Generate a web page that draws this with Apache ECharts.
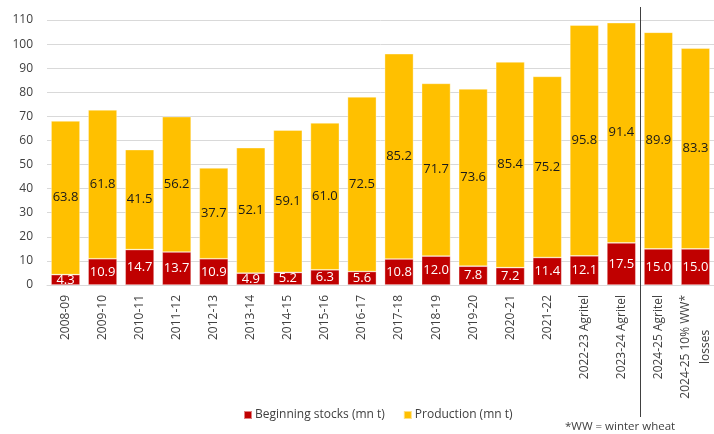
<!DOCTYPE html>
<html><head><meta charset="utf-8">
<script src="https://cdn.jsdelivr.net/npm/echarts@6/dist/echarts.min.js"></script>
<style>html,body{margin:0;padding:0;background:#fff}#c{width:714px;height:434px}</style>
</head><body><div id="c"></div>
<script>
var categories = ['2008-09','2009-10','2010-11','2011-12','2012-13','2013-14','2014-15','2015-16','2016-17','2017-18','2018-19','2019-20','2020-21','2021-22','2022-23 Agritel','2023-24 Agritel','2024-25 Agritel','2024-25 10% WW*\nlosses'];
var stocks = [4.3,10.9,14.7,13.7,10.9,4.9,5.2,6.3,5.6,10.8,12.0,7.8,7.2,11.4,12.1,17.5,15.0,15.0];
var production = [63.8,61.8,41.5,56.2,37.7,52.1,59.1,61.0,72.5,85.2,71.7,73.6,85.4,75.2,95.8,91.4,89.9,83.3];
var seriesNames = ['Beginning stocks (mn t)','Production (mn t)'];
var footnote = '*WW = winter wheat';
var dividerAfter = 15;

var font = 'Open Sans';
var chart = echarts.init(document.getElementById('c'), null, {renderer:'canvas'});
chart.setOption({
  animation:false,
  textStyle:{fontFamily:font},
  grid:{left:47, top:20, width:671, bottom:149, containLabel:false},
  legend:{
    data:seriesNames, left:238, top:404, icon:'rect', itemWidth:8, itemHeight:8, itemGap:18,
    textStyle:{fontFamily:font, fontSize:12, color:'#404040', padding:[0,0,0,-2]}
  },
  xAxis:{
    type:'category', data:categories,
    axisLine:{show:true, lineStyle:{color:'#d9d9d9'}}, axisTick:{show:false},
    axisLabel:{rotate:90, interval:0, margin:10, fontSize:12, color:'#404040', fontFamily:font,
      formatter:function(v){
        var p=v.split('\n');
        if(p.length>1) return '{a|'+p[0]+'}\n{b|'+p[1]+'}';
        return '{a|'+v+'}';
      },
      rich:{a:{fontSize:12,color:'#404040',fontFamily:font,lineHeight:20},b:{fontSize:12,color:'#404040',fontFamily:font,align:'center',lineHeight:20}}
    }
  },
  yAxis:{
    type:'value', min:0, max:110, interval:10,
    axisLine:{show:false}, axisTick:{show:false},
    axisLabel:{fontSize:12, color:'#404040', margin:14, fontFamily:font},
    splitLine:{lineStyle:{color:'#d9d9d9', width:1}}
  },
  series:[
    {name:seriesNames[0], type:'bar', stack:'t', data:stocks, barCategoryGap:'22%',
     itemStyle:{color:'#C00000', borderColor:'rgba(255,255,255,0.5)', borderWidth:0.7},
     label:{show:true, position:'inside', color:'#fff', fontSize:13, fontFamily:font, formatter:function(p){return p.value.toFixed(1);}}},
    {name:seriesNames[1], type:'bar', stack:'t', data:production, barCategoryGap:'22%',
     itemStyle:{color:'#FFC000', borderColor:'rgba(255,255,255,0.5)', borderWidth:0.7},
     label:{show:true, position:'inside', color:'#1a1a1a', fontSize:13, fontFamily:font, formatter:function(p){return p.value.toFixed(1);}}}
  ]
});
var x1 = chart.convertToPixel({xAxisIndex:0}, dividerAfter);
var x2 = chart.convertToPixel({xAxisIndex:0}, dividerAfter+1);
var xm = Math.round((x1+x2)/2)+0.5;
chart.setOption({graphic:[
  {type:'line', shape:{x1:xm,y1:7,x2:xm,y2:417}, style:{stroke:'#404040', lineWidth:1}, z:100},
  {type:'text', left:565, top:421, style:{text:footnote, font:'11.5px "Open Sans"', fill:'#404040'}}
]});
</script></body></html>
